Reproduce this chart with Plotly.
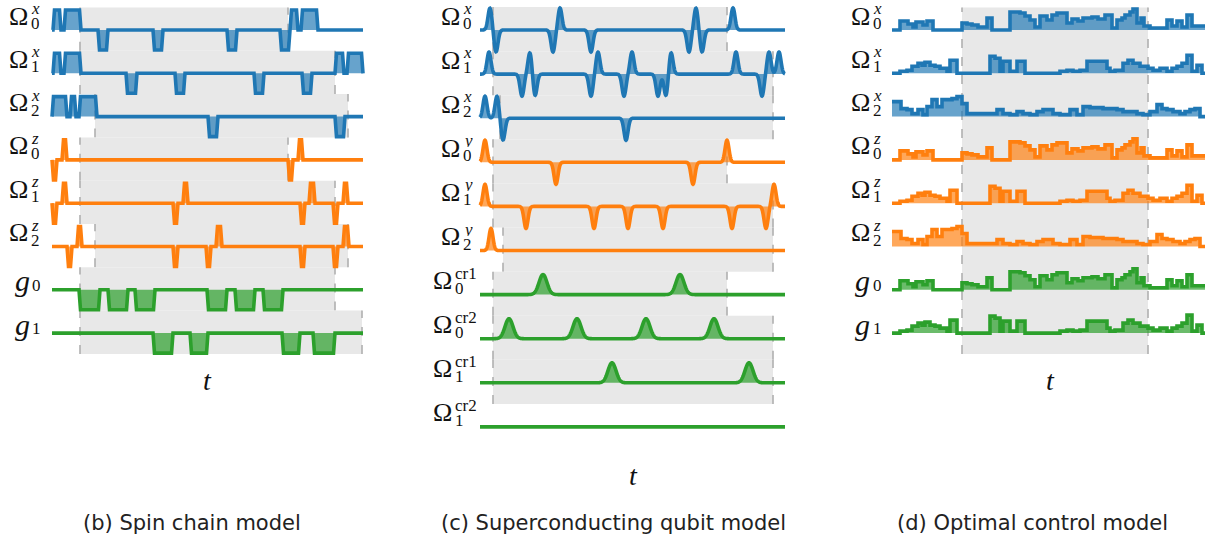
import numpy as np
import plotly.graph_objects as go

W, H = 1214, 544
BLUE, ORANGE, GREEN = "#1f77b4", "#ff7f0e", "#2ca02c"
FILL = {BLUE: "rgba(31,119,180,0.68)", ORANGE: "rgba(255,127,14,0.68)", GREEN: "rgba(44,160,44,0.7)"}
BAND = "#e8e8e8"
DASH = "#b0b0b0"
LW = 3.6

# ---------------- (b) Spin chain model ----------------
b_labels = [("Ω", "x", "0"), ("Ω", "x", "1"), ("Ω", "x", "2"),
            ("Ω", "z", "0"), ("Ω", "z", "1"), ("Ω", "z", "2"),
            ("g", "", "0"), ("g", "", "1")]
b_colors = [BLUE, BLUE, BLUE, ORANGE, ORANGE, ORANGE, GREEN, GREEN]
b_T = 311
# (start, end, level) pulses per channel
b_pulses = [
    [(1, 9, 1), (12, 29, 1), (46, 56, -1), (101, 111, -1), (175, 185, -1), (228, 238, -1), (238, 246, 1), (249, 266, 1)],
    [(1, 9, 1), (12, 29, 1), (74, 85, -1), (123, 133, -1), (202, 212, -1), (250, 260, -1), (283, 292, 1), (295, 311, 1)],
    [(0, 15, 1), (18, 24, 1), (27, 45, 1), (156, 166, -1), (283, 293, -1)],
    [(0, 5, -1), (10, 15, 1), (236, 241, -1), (246, 251, 1)],
    [(0, 5, -1), (10, 15, 1), (121, 126, -1), (131, 136, 1), (248, 253, -1), (257, 263, 1), (281, 286, -1), (291, 296, 1)],
    [(15, 20, -1), (25, 30, 1), (121, 126, -1), (154, 159, -1), (164, 170, 1), (248, 253, -1), (281, 286, -1), (291, 297, 1)],
    [(27, 48, -1), (56, 76, -1), (83, 103, -1), (155, 175, -1), (183, 203, -1), (211, 231, -1)],
    [(101, 121, -1), (138, 156, -1), (230, 248, -1), (261, 283, -1)],
]
b_windows = [(28, 236), (28, 283), (43, 296), (28, 236), (28, 283), (43, 296), (28, 283), (28, 310)]

# ---------------- (c) Superconducting qubit model ----------------
c_labels = [("Ω", "x", "0"), ("Ω", "x", "1"), ("Ω", "x", "2"),
            ("Ω", "y", "0"), ("Ω", "y", "1"), ("Ω", "y", "2"),
            ("Ω", "cr1", "0"), ("Ω", "cr2", "0"), ("Ω", "cr1", "1"), ("Ω", "cr2", "1")]
c_colors = [BLUE, BLUE, BLUE, ORANGE, ORANGE, ORANGE, GREEN, GREEN, GREEN, GREEN]
c_T = 305
# (centre, sign) of each pulse
c_spikes = [
    [(10, 1), (16, -1), (73, -1), (80, 1), (111, -1), (209, -1), (216, 1), (222, -1), (253, 1)],
    [(9, 1), (42, -1), (50, 1), (55, -1), (111, -1), (118, 1), (144, -1), (152, 1), (178, -1), (186, -1),
     (191, 1), (256, 1), (282, -1), (289, 1), (299, 1)],
    [(5, 1), (17, 1), (23, -1), (146, -1)],
    [(5, 1), (76, -1), (213, -1), (247, 1)],
    [(5, 1), (46, -1), (114, -1), (148, -1), (183, -1), (252, -1), (286, -1), (294, 1)],
    [(11, 1)],
    [(63, 1), (200, 1)],
    [(29, 1), (97, 1), (166, 1), (234, 1)],
    [(132, 1), (269, 1)],
    [],
]
c_wide = [False] * 6 + [True] * 4
c_windows = [(13, 247), (13, 293), (20, 293), (13, 247), (13, 293), (23, 293), (13, 247), (13, 293), (13, 293), None]

# ---------------- (d) Optimal control model ----------------
d_labels = b_labels
d_colors = b_colors
d_T = 313
d_A_t = [0, 8, 16, 21, 24, 31, 35, 41, 70, 75, 80, 86, 95, 100, 118, 128, 133, 138, 143, 148, 155, 160, 165,
         175, 180, 186, 191, 200, 206, 213, 220, 225, 230, 233, 238, 241, 245, 249, 252, 258, 268, 275, 280,
         285, 290, 295, 300]
d_A_h = [0, 9, 6, 3, 8, 5, 9, 0, 7, 6, 5, 3, 12, 0, 18, 17, 14, 10, 3, 14, 10, 15, 17,
         7, 11, 9, 12, 13, 11, 15, 2, 10, 12, 15, 18, 21, 7, 12, 4, 2, 2, 10, 4,
         9, 3, 15, 4]
d_B_t = [0, 8, 15, 20, 26, 30, 33, 38, 43, 48, 55, 58, 65, 98, 103, 108, 111, 118, 125, 133, 168, 175, 181,
         188, 195, 215, 218, 223, 231, 236, 241, 248, 256, 261, 268, 275, 280, 285, 290, 295, 300, 305, 310]
d_B_h = [0, 2, 3, 7, 10, 8, 11, 8, 7, 5, 2, 13, 0, 17, 15, 2, 12, 2, 12, 0, 2, 3, 2,
         3, 12, 5, 2, 3, 10, 13, 10, 7, 5, 3, 5, 2, 5, 7, 10, 18, 2, 8, 0]
d_C_t = [0, 9, 15, 20, 26, 31, 35, 40, 45, 50, 60, 65, 70, 75, 98, 105, 111, 118, 125, 131, 138, 145, 151,
         161, 168, 178, 185, 191, 198, 211, 225, 231, 245, 251, 258, 265, 270, 275, 281, 288, 293, 298, 303, 308]
d_C_h = [15, 8, 7, 3, 7, 2, 10, 17, 10, 17, 18, 20, 13, 3, 3, 7, 3, 2, 5, 3, 2, 5, 7,
         3, 2, 7, 2, 10, 9, 8, 7, 5, 3, 2, 5, 12, 8, 7, 5, 3, 5, 7, 8, 0]
d_patterns = {"A": (d_A_t, d_A_h), "B": (d_B_t, d_B_h), "C": (d_C_t, d_C_h)}
d_rows = ["A", "B", "C", "A", "B", "C", "A", "B"]
d_window = (70, 256)

captions = ["(b) Spin chain model", "(c) Superconducting qubit model", "(d) Optimal control model"]

# ---------------- geometry (style) ----------------
SB = 43.3   # px per row, panels b/d
SC = 44.1   # px per row, panel c
AMP_B = 20 / SB
AMP_C = 22 / SC
AMP_CG = 20 / SC
PAD = 3


def trapezoid(pulses, T, ramp=1.5):
    xs, ys = [0.0], [0.0]
    for s, e, L in sorted(pulses):
        r = min(ramp, (e - s) / 3)
        xs += [s, s + r, e - r, e]
        ys += [0, L, L, 0]
    xs.append(T)
    ys.append(0)
    return np.array(xs, float), np.array(ys, float)


def gauss_train(spikes, T, sigma):
    t = np.linspace(0, T, T * 4 + 1)
    y = np.zeros_like(t)
    for c, a in spikes:
        y += a * np.exp(-0.5 * ((t - c) / sigma) ** 2)
    return t, y


fig = go.Figure()


def add_row(xs, ys, k, color, xa, ya, T, shape="linear"):
    fig.add_trace(go.Scatter(x=[0, T], y=[-k, -k], mode="lines", line=dict(width=0, color=color),
                             xaxis=xa, yaxis=ya, hoverinfo="skip", showlegend=False))
    fig.add_trace(go.Scatter(x=xs, y=ys - k, mode="lines",
                             line=dict(width=LW, color=color, shape=shape, simplify=False),
                             fill="tonexty", fillcolor=FILL[color], xaxis=xa, yaxis=ya,
                             hoverinfo="skip", showlegend=False))


shapes = []


def band(xref, yref, x0, x1, ytop, ybot):
    shapes.append(dict(type="rect", xref=xref, yref=yref, x0=x0, x1=x1, y0=ybot, y1=ytop,
                       fillcolor=BAND, line=dict(width=0), layer="below"))
    for xv in (x0, x1):
        shapes.append(dict(type="line", xref=xref, yref=yref, x0=xv, x1=xv, y0=ybot, y1=ytop,
                           line=dict(color=DASH, width=1.6, dash="dash"), layer="below"))


# panel b
for k, (pulses, col) in enumerate(zip(b_pulses, b_colors)):
    xs, ys = trapezoid(pulses, b_T)
    add_row(xs, ys * AMP_B, k, col, "x", "y", b_T)
    w0, w1 = b_windows[k]
    band("x", "y", w0, w1, -k + 0.52, -k - 0.48)

# panel c
for k, (sp, col) in enumerate(zip(c_spikes, c_colors)):
    if c_wide[k]:
        t, y = gauss_train(sp, c_T, 4.0)
        y = y * AMP_CG
    else:
        t, y = gauss_train(sp, c_T, 2.0)
        y = y * AMP_C
    add_row(t, y, k, col, "x2", "y2", c_T)
    if c_windows[k] is not None:
        w0, w1 = c_windows[k]
        band("x2", "y2", w0, w1, -k + 0.52, -k - 0.48)

# panel d
for k, (pat, col) in enumerate(zip(d_rows, d_colors)):
    tt, hh = d_patterns[pat]
    xs = np.array(list(tt) + [d_T], float)
    ys = np.array(list(hh) + [hh[-1]], float) / SB
    add_row(xs, ys, k, col, "x3", "y3", d_T, shape="hv")
band("x3", "y3", d_window[0], d_window[1], 0.52, -7.48)

# ---------------- labels ----------------
ann = []
SERIF = "Liberation Serif"
INK = "#111"


def txt(text, x, yref, k, yshift, anchor, size, h=None):
    d = dict(text=text, x=x / W, xref="paper", y=-k, yref=yref, yshift=yshift,
             xanchor=anchor, yanchor="middle", showarrow=False, borderpad=0,
             font=dict(family=SERIF, size=size, color=INK))
    if h is not None:
        d["height"] = h
    ann.append(d)


def label(main, sup, sub, k, yref, main_right, script_left):
    if main == "g":
        txt("<i>g</i>", main_right, yref, k, 9, "right", 30)
        txt(sub, script_left, yref, k, 5, "left", 17, 14)
        return
    txt(main, main_right, yref, k, 14, "right", 26)
    txt(sup if sup.startswith("cr") else "<i>%s</i>" % sup, script_left, yref, k, 22, "left", 17, 14)
    txt(sub, script_left, yref, k, 7, "left", 17, 14)


for k, (m, s, u) in enumerate(b_labels):
    label(m, s, u, k, "y", 31 if m == "g" else 29, 31 if m == "g" else 30)
for k, (m, s, u) in enumerate(c_labels):
    cr = s.startswith("cr")
    label(m, s, u, k, "y2", 453 if cr else 461, 454 if cr else 462)
for k, (m, s, u) in enumerate(d_labels):
    label(m, s, u, k, "y3", 871, 872)

for xp, yp in [(207, 380), (633, 475), (1050, 380)]:
    ann.append(dict(text="<i>t</i>", x=xp / W, y=1 - yp / H, xref="paper", yref="paper",
                    xanchor="center", yanchor="middle", showarrow=False,
                    font=dict(family=SERIF, size=28, color=INK)))

for text, xp in zip(captions, [192, 613, 1032]):
    ann.append(dict(text=text, x=xp / W, y=1 - 523 / H, xref="paper", yref="paper",
                    xanchor="center", yanchor="middle", showarrow=False,
                    font=dict(family="DejaVu Sans", size=21, color="#222")))

ax_common = dict(visible=False, fixedrange=True, showgrid=False, zeroline=False)


def xdom(p0, p1):
    return [(p0 - PAD) / W, (p1 + PAD) / W]


fig.update_layout(
    width=W, height=H, margin=dict(l=0, r=0, t=0, b=0),
    paper_bgcolor="white", plot_bgcolor="rgba(0,0,0,0)", showlegend=False,
    xaxis=dict(domain=xdom(52, 52 + b_T), range=[-PAD, b_T + PAD], anchor="y", **ax_common),
    yaxis=dict(domain=[0, 1], range=[-(H - 30) / SB, 30 / SB], anchor="x", **ax_common),
    xaxis2=dict(domain=xdom(480, 480 + c_T), range=[-PAD, c_T + PAD], anchor="y2", **ax_common),
    yaxis2=dict(domain=[0, 1], range=[-(H - 30) / SC, 30 / SC], anchor="x2", **ax_common),
    xaxis3=dict(domain=xdom(892, 892 + d_T), range=[-PAD, d_T + PAD], anchor="y3", **ax_common),
    yaxis3=dict(domain=[0, 1], range=[-(H - 30) / SB, 30 / SB], anchor="x3", **ax_common),
    shapes=shapes, annotations=ann,
)

fig.write_html("out.html", config={"displayModeBar": False},
               post_script="document.body.style.margin='0';document.body.style.overflow='hidden';")
